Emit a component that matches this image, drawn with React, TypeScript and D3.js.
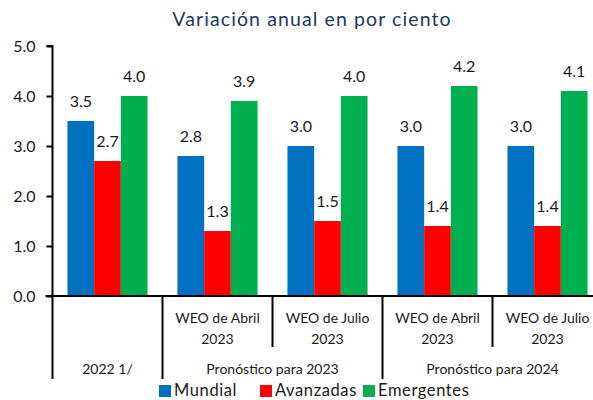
import { useEffect, useRef } from 'react';
import * as d3 from 'd3';

const categories = ['c2022', 'abr23', 'jul23', 'abr24', 'jul24'];
const subLabels = ['', 'WEO de Abril|2023', 'WEO de Julio|2023', 'WEO de Abril|2023', 'WEO de Julio|2023'];
const groupLabels = [
  { label: '2022 1/', from: 0, to: 0 },
  { label: 'Pronóstico para 2023', from: 1, to: 2 },
  { label: 'Pronóstico para 2024', from: 3, to: 4 },
];
const seriesNames = ['Mundial', 'Avanzadas', 'Emergentes'];
const seriesColors = ['#0070C0', '#FF0000', '#00B050'];
const mundial = [3.5, 2.8, 3.0, 3.0, 3.0];
const avanzadas = [2.7, 1.3, 1.5, 1.4, 1.4];
const emergentes = [4.0, 3.9, 4.0, 4.2, 4.1];
const yTicks = [0, 1, 2, 3, 4, 5];

const FONT = 'Lato, "Noto Sans", sans-serif';

const App = () => {
  const svgRef = useRef<SVGSVGElement>(null);

  useEffect(() => {
    if (!svgRef.current) return;
    const width = 593;
    const height = 400;
    const margin = { top: 46, left: 52.5, bottom: 296 };
    const plotRight = 602.5;

    const svg = d3.select(svgRef.current).attr('width', width).attr('height', height);
    svg.selectAll('*').remove();

    const series = [mundial, avanzadas, emergentes];

    const x = d3.scaleBand().domain(categories).range([margin.left, plotRight]).padding(0);
    const xInner = d3.scaleBand<number>()
      .domain([0, 1, 2])
      .range([0, x.bandwidth()])
      .paddingInner(0)
      .paddingOuter(0.56);
    const y = d3.scaleLinear().domain([0, 5]).range([margin.bottom, margin.top]);

    // title
    svg.append('text')
      .attr('x', 312)
      .attr('y', 26)
      .attr('text-anchor', 'middle')
      .attr('font-family', FONT)
      .attr('font-size', 19.5)
      .attr('letter-spacing', 1.1)
      .attr('fill', '#203864')
      .text('Variación anual en por ciento');

    // bars
    series.forEach((vals, si) => {
      const g = svg.append('g');
      g.selectAll('rect')
        .data(vals)
        .enter()
        .append('rect')
        .attr('x', (_d, i) => (x(categories[i]) ?? 0) + (xInner(si) ?? 0))
        .attr('y', d => y(d))
        .attr('width', xInner.bandwidth())
        .attr('height', d => y(0) - y(d))
        .attr('fill', seriesColors[si]);
      g.selectAll('text')
        .data(vals)
        .enter()
        .append('text')
        .attr('x', (_d, i) => (x(categories[i]) ?? 0) + (xInner(si) ?? 0) + xInner.bandwidth() / 2)
        .attr('y', d => y(d) - 14)
        .attr('text-anchor', 'middle')
        .attr('font-family', FONT)
        .attr('font-size', 16)
        .attr('fill', '#1a1a1a')
        .text(d => d.toFixed(1));
    });

    // y axis
    const yAxis = svg.append('g')
      .attr('transform', `translate(${margin.left},0)`)
      .call(d3.axisLeft(y).tickValues(yTicks).tickFormat(d => (d as number).toFixed(1)).tickSize(6).tickPadding(11));
    yAxis.select('.domain').attr('stroke', '#000').attr('stroke-width', 2).attr('d', `M-6,${margin.top}H0V${margin.bottom}`);
    yAxis.selectAll('.tick line').attr('stroke', '#000').attr('stroke-width', 2);
    yAxis.selectAll('.tick text')
      .attr('font-family', FONT)
      .attr('font-size', 16)
      .attr('fill', '#1a1a1a');

    // x axis line
    svg.append('line')
      .attr('x1', margin.left - 7)
      .attr('x2', plotRight)
      .attr('y1', y(0))
      .attr('y2', y(0))
      .attr('stroke', '#000')
      .attr('stroke-width', 2);

    // category dividers
    const groupStarts = new Set(groupLabels.map(g => g.from));
    categories.concat(['end']).forEach((c, i) => {
      const xp = i < categories.length ? (x(c) ?? 0) : plotRight;
      const full = i === categories.length || groupStarts.has(i);
      svg.append('line')
        .attr('x1', xp)
        .attr('x2', xp)
        .attr('y1', y(0))
        .attr('y2', full ? 379 : 347)
        .attr('stroke', '#000')
        .attr('stroke-width', 2);
    });

    // level 1 labels
    subLabels.forEach((lab, i) => {
      if (!lab) return;
      const cx = (x(categories[i]) ?? 0) + x.bandwidth() / 2;
      lab.split('|').forEach((line, li) => {
        svg.append('text')
          .attr('x', cx)
          .attr('y', 323 + li * 21)
          .attr('text-anchor', 'middle')
          .attr('font-family', FONT)
          .attr('font-size', 14)
          .attr('fill', '#1a1a1a')
          .text(line);
      });
    });

    // level 2 labels
    groupLabels.forEach(g => {
      const x0 = x(categories[g.from]) ?? 0;
      const x1 = (x(categories[g.to]) ?? 0) + x.bandwidth();
      svg.append('text')
        .attr('x', (x0 + x1) / 2)
        .attr('y', 374)
        .attr('text-anchor', 'middle')
        .attr('font-family', FONT)
        .attr('font-size', 14)
        .attr('fill', '#1a1a1a')
        .text(g.label);
    });

    // legend
    const legendX = [159, 260, 363];
    seriesNames.forEach((name, i) => {
      svg.append('rect')
        .attr('x', legendX[i])
        .attr('y', 385)
        .attr('width', 12)
        .attr('height', 12)
        .attr('fill', seriesColors[i]);
      svg.append('text')
        .attr('x', legendX[i] + 15)
        .attr('y', 396)
        .attr('font-family', FONT)
        .attr('font-size', 16.5)
        .attr('letter-spacing', 0.6)
        .attr('fill', '#1a1a1a')
        .text(name);
    });
  }, []);

  return <svg ref={svgRef} style={{ position: 'absolute', left: 0, top: 0 }}></svg>;
};

export default App;
